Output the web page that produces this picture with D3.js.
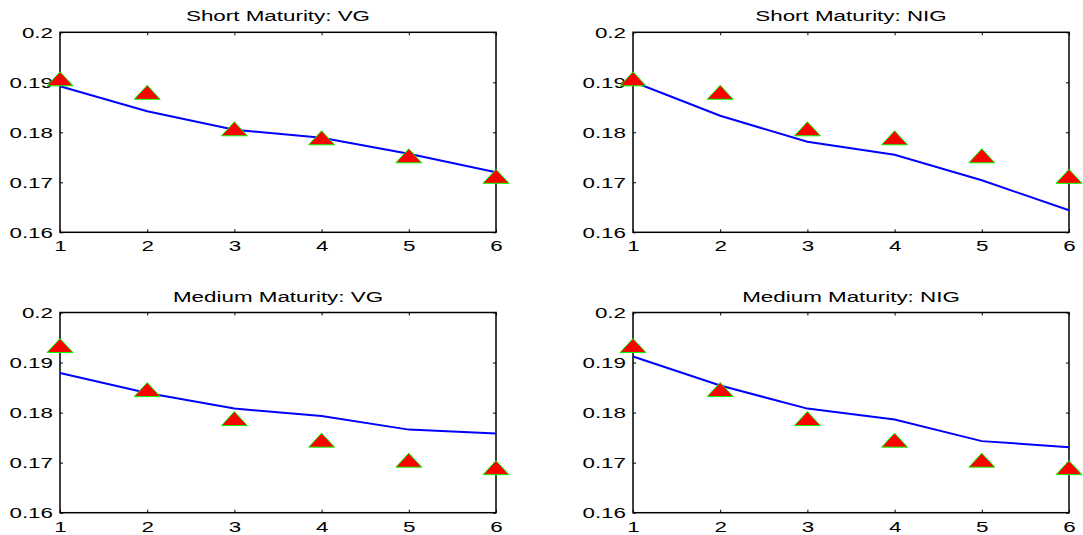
<!DOCTYPE html>
<html>
<head>
<meta charset="utf-8">
<script src="https://cdn.jsdelivr.net/npm/d3@7"></script>
<style>
  body { margin: 0; background: #fff; }
  text { font-family: "Liberation Sans", Arial, sans-serif; font-size: 14px; fill: #000; }
</style>
</head>
<body>
<div id="chart"></div>
<script>
/* Data */
const maturities = [1, 2, 3, 4, 5, 6];
const yTicks = [0.16, 0.17, 0.18, 0.19, 0.2];
const titles = ["Short Maturity: VG", "Short Maturity: NIG", "Medium Maturity: VG", "Medium Maturity: NIG"];

const marketShort = [0.1907, 0.1880, 0.1807, 0.1789, 0.1753, 0.1712];
const marketMedium = [0.1934, 0.1846, 0.1788, 0.1745, 0.1705, 0.1690];

const modelShortVG = [0.1892, 0.1842, 0.1805, 0.1789, 0.1757, 0.1720];
const modelShortNIG = [0.1901, 0.1833, 0.1781, 0.1755, 0.1704, 0.1644];
const modelMediumVG = [0.1879, 0.1839, 0.1808, 0.1793, 0.1766, 0.1758];
const modelMediumNIG = [0.1912, 0.1854, 0.1808, 0.1786, 0.1743, 0.1731];

/* Layout */
const W = 1083, H = 535;
const stretch = 1.6; // text in the reference is horizontally stretched

const svg = d3.select("#chart").append("svg")
    .attr("width", W).attr("height", H);
svg.append("rect").attr("width", W).attr("height", H).attr("fill", "#fff");

const panels = [
    { title: titles[0], market: marketShort, model: modelShortVG, x0: 60, x1: 496, y0: 32.3, y1: 232.3 },
    { title: titles[1], market: marketShort, model: modelShortNIG, x0: 633, x1: 1069, y0: 32.3, y1: 232.3 },
    { title: titles[2], market: marketMedium, model: modelMediumVG, x0: 60, x1: 496, y0: 312.5, y1: 512.7 },
    { title: titles[3], market: marketMedium, model: modelMediumNIG, x0: 633, x1: 1069, y0: 312.5, y1: 512.7 }
];

function stretchText(sel, dx, dy, anchor) {
    sel.attr("x", null).attr("y", null).attr("dy", null)
        .attr("text-anchor", anchor)
        .attr("transform", `translate(${dx},${dy}) scale(${stretch},1)`)
        .style("font-size", "14px")
        .attr("fill", "#000");
}

function drawPanel(p) {
    const width = p.x1 - p.x0;
    const height = p.y1 - p.y0;
    const g = svg.append("g").attr("transform", `translate(${p.x0},${p.y0})`);

    const x = d3.scaleLinear().domain([1, 6]).range([0, width]);
    const y = d3.scaleLinear().domain([0.16, 0.2]).range([height, 0]);

    /* Axes with short inward ticks on all sides */
    const left = g.append("g")
        .call(d3.axisLeft(y).tickValues(yTicks).tickSizeInner(-3).tickSizeOuter(0)
            .tickFormat(d => String(+d.toFixed(2))));
    left.selectAll("text").call(stretchText, -7, 5, "end");

    const bottom = g.append("g")
        .attr("transform", `translate(0,${height})`)
        .call(d3.axisBottom(x).tickValues(maturities).tickSizeInner(-3).tickSizeOuter(0)
            .tickFormat(d3.format("d")));
    bottom.selectAll("text").call(stretchText, 0, 19, "middle");

    g.append("g")
        .attr("transform", `translate(${width},0)`)
        .call(d3.axisRight(y).tickValues(yTicks).tickSizeInner(-3).tickSizeOuter(0).tickFormat(""));
    g.append("g")
        .call(d3.axisTop(x).tickValues(maturities).tickSizeInner(-3).tickSizeOuter(0).tickFormat(""));

    g.selectAll(".domain").remove();
    g.selectAll(".tick line").attr("stroke", "#000").attr("stroke-width", 1);

    g.append("rect")
        .attr("width", width).attr("height", height)
        .attr("fill", "none").attr("stroke", "#000").attr("stroke-width", 1.5);

    /* Model line */
    const line = d3.line()
        .x((d, i) => x(maturities[i]))
        .y(d => y(d));
    g.append("path")
        .datum(p.model)
        .attr("d", line)
        .attr("fill", "none")
        .attr("stroke", "#0000ff")
        .attr("stroke-width", 2);

    /* Market triangles */
    const tw = 13, th = 7;
    g.selectAll(".mk")
        .data(p.market)
        .join("path")
        .attr("class", "mk")
        .attr("transform", (d, i) => `translate(${x(maturities[i])},${y(d)})`)
        .attr("d", `M${-tw},${th}L${tw},${th}L0,${-th}Z`)
        .attr("fill", "#ff0000")
        .attr("stroke", "#00ff00")
        .attr("stroke-width", 1);

    /* Title */
    g.append("text")
        .text(p.title)
        .call(stretchText, width / 2, -11, "middle");
}

panels.forEach(drawPanel);
</script>
</body>
</html>
